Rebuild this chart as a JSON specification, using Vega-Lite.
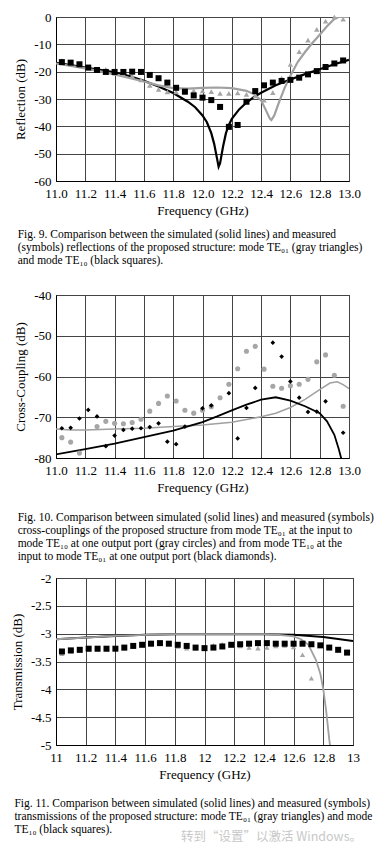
{
"$schema": "https://vega.github.io/schema/vega-lite/v6.json",
"padding": {"top": 10, "left": 10, "right": 5, "bottom": 0},
"spacing": 7,
"background": "white",
"config": {
 "view": {"stroke": "#000", "strokeWidth": 1},
 "axis": {"labelFont": "Liberation Serif", "titleFont": "Liberation Serif", "labelFontSize": 13, "titleFontSize": 13, "titleFontWeight": "normal", "labelColor": "#000", "titleColor": "#000", "gridColor": "#444", "gridWidth": 1, "gridOpacity": 1, "domainColor": "#000", "ticks": false, "labelOverlap": false, "labelFlush": false, "labelBound": false, "labelExpr": "replace(datum.label, '\u2212', '-')"},
 "axisX": {"labelPadding": 6, "titlePadding": 4},
 "axisY": {"labelPadding": 5, "titlePadding": 6},
 "title": {"font": "Liberation Serif", "fontSize": 11.5, "fontWeight": "normal", "color": "#000", "anchor": "start", "orient": "bottom", "frame": "bounds", "lineHeight": 13.1, "dx": 3}
},
"title": {"text": "转到“设置”以激活 Windows。", "font": "Noto Sans CJK SC", "fontSize": 12.5, "color": "#c8c8c8", "anchor": "start", "orient": "bottom", "offset": -5, "frame": "group", "dx": 125},
"vconcat": [
{
 "width": 293, "height": 164,
 "title": {"text": ["Fig. 9.   Comparison between the simulated (solid lines) and measured", "(symbols) reflections of the proposed structure: mode TE₀₁ (gray triangles)", "and mode TE₁₀ (black squares).", ""], "offset": 12},
 "data": {"values": [
  {"s":"sb","f":11.0,"v":-16.8},{"s":"sb","f":11.1,"v":-17.6},{"s":"sb","f":11.2,"v":-18.5},{"s":"sb","f":11.3,"v":-19.3},{"s":"sb","f":11.4,"v":-20.2},{"s":"sb","f":11.5,"v":-21.6},{"s":"sb","f":11.6,"v":-23.3},{"s":"sb","f":11.7,"v":-25.4},{"s":"sb","f":11.8,"v":-27.8},{"s":"sb","f":11.9,"v":-31.0},{"s":"sb","f":11.95,"v":-33.0},{"s":"sb","f":12.0,"v":-36.0},{"s":"sb","f":12.03,"v":-38.5},{"s":"sb","f":12.06,"v":-42.5},{"s":"sb","f":12.08,"v":-46.5},{"s":"sb","f":12.1,"v":-52.0},{"s":"sb","f":12.11,"v":-54.8},{"s":"sb","f":12.12,"v":-53.5},{"s":"sb","f":12.14,"v":-47.5},{"s":"sb","f":12.16,"v":-42.5},{"s":"sb","f":12.18,"v":-39.5},{"s":"sb","f":12.2,"v":-37.3},{"s":"sb","f":12.25,"v":-33.8},{"s":"sb","f":12.3,"v":-31.3},{"s":"sb","f":12.35,"v":-29.3},{"s":"sb","f":12.4,"v":-27.7},{"s":"sb","f":12.5,"v":-25.0},{"s":"sb","f":12.6,"v":-22.9},{"s":"sb","f":12.7,"v":-20.9},{"s":"sb","f":12.8,"v":-19.1},{"s":"sb","f":12.9,"v":-17.3},{"s":"sb","f":13.0,"v":-15.7},
  {"s":"sg","f":11.0,"v":-17.0},{"s":"sg","f":11.2,"v":-18.8},{"s":"sg","f":11.4,"v":-21.0},{"s":"sg","f":11.6,"v":-23.6},{"s":"sg","f":11.7,"v":-25.0},{"s":"sg","f":11.8,"v":-26.0},{"s":"sg","f":11.9,"v":-26.2},{"s":"sg","f":12.0,"v":-25.9},{"s":"sg","f":12.1,"v":-25.8},{"s":"sg","f":12.2,"v":-26.0},{"s":"sg","f":12.3,"v":-27.0},{"s":"sg","f":12.35,"v":-28.2},{"s":"sg","f":12.4,"v":-30.5},{"s":"sg","f":12.43,"v":-33.8},{"s":"sg","f":12.46,"v":-37.2},{"s":"sg","f":12.47,"v":-37.7},{"s":"sg","f":12.49,"v":-36.0},{"s":"sg","f":12.52,"v":-31.5},{"s":"sg","f":12.56,"v":-26.0},{"s":"sg","f":12.6,"v":-21.5},{"s":"sg","f":12.65,"v":-16.5},{"s":"sg","f":12.7,"v":-12.8},{"s":"sg","f":12.75,"v":-9.5},{"s":"sg","f":12.8,"v":-6.5},{"s":"sg","f":12.85,"v":-3.4},{"s":"sg","f":12.9,"v":-0.7},{"s":"sg","f":12.93,"v":0},{"s":"sg","f":13.0,"v":0},
  {"s":"mg","f":11.04,"v":-16.0},{"s":"mg","f":11.10,"v":-16.6},{"s":"mg","f":11.16,"v":-17.5},{"s":"mg","f":11.22,"v":-18.6},{"s":"mg","f":11.28,"v":-19.6},{"s":"mg","f":11.34,"v":-19.2},{"s":"mg","f":11.40,"v":-20.5},{"s":"mg","f":11.46,"v":-21.0},{"s":"mg","f":11.52,"v":-21.5},{"s":"mg","f":11.58,"v":-23.0},{"s":"mg","f":11.64,"v":-25.0},{"s":"mg","f":11.70,"v":-26.5},{"s":"mg","f":11.76,"v":-27.4},{"s":"mg","f":11.82,"v":-27.4},{"s":"mg","f":11.88,"v":-27.6},{"s":"mg","f":11.94,"v":-26.9},{"s":"mg","f":12.00,"v":-27.0},{"s":"mg","f":12.06,"v":-27.3},{"s":"mg","f":12.12,"v":-27.9},{"s":"mg","f":12.18,"v":-27.9},{"s":"mg","f":12.24,"v":-27.8},{"s":"mg","f":12.30,"v":-28.3},{"s":"mg","f":12.36,"v":-28.9},{"s":"mg","f":12.42,"v":-30.4},{"s":"mg","f":12.48,"v":-27.7},{"s":"mg","f":12.54,"v":-22.4},{"s":"mg","f":12.60,"v":-17.3},{"s":"mg","f":12.66,"v":-12.7},{"s":"mg","f":12.72,"v":-8.5},{"s":"mg","f":12.78,"v":-4.5},{"s":"mg","f":12.84,"v":-1.5},{"s":"mg","f":12.90,"v":0},{"s":"mg","f":12.96,"v":-0.8},
  {"s":"mb","f":11.04,"v":-16.5},{"s":"mb","f":11.10,"v":-16.7},{"s":"mb","f":11.16,"v":-17.3},{"s":"mb","f":11.22,"v":-18.5},{"s":"mb","f":11.28,"v":-19.4},{"s":"mb","f":11.34,"v":-20.1},{"s":"mb","f":11.40,"v":-20.1},{"s":"mb","f":11.46,"v":-20.1},{"s":"mb","f":11.52,"v":-20.0},{"s":"mb","f":11.58,"v":-20.1},{"s":"mb","f":11.64,"v":-21.2},{"s":"mb","f":11.70,"v":-22.4},{"s":"mb","f":11.76,"v":-24.0},{"s":"mb","f":11.82,"v":-25.9},{"s":"mb","f":11.88,"v":-27.3},{"s":"mb","f":11.94,"v":-28.7},{"s":"mb","f":12.00,"v":-29.5},{"s":"mb","f":12.06,"v":-30.4},{"s":"mb","f":12.12,"v":-32.9},{"s":"mb","f":12.18,"v":-40.2},{"s":"mb","f":12.24,"v":-39.5},{"s":"mb","f":12.30,"v":-31.0},{"s":"mb","f":12.36,"v":-27.1},{"s":"mb","f":12.42,"v":-25.0},{"s":"mb","f":12.48,"v":-24.0},{"s":"mb","f":12.54,"v":-23.4},{"s":"mb","f":12.60,"v":-23.0},{"s":"mb","f":12.66,"v":-22.2},{"s":"mb","f":12.72,"v":-21.0},{"s":"mb","f":12.78,"v":-19.8},{"s":"mb","f":12.84,"v":-18.3},{"s":"mb","f":12.90,"v":-17.0},{"s":"mb","f":12.96,"v":-15.9}
 ]},
 "encoding": {
  "x": {"field": "f", "type": "quantitative", "title": "Frequency (GHz)", "scale": {"domain": [11, 13], "nice": false}, "axis": {"values": [11, 11.2, 11.4, 11.6, 11.8, 12, 12.2, 12.4, 12.6, 12.8, 13], "format": ".1f"}},
  "y": {"field": "v", "type": "quantitative", "title": "Reflection (dB)", "scale": {"domain": [-60, 0], "nice": false}, "axis": {"values": [-60, -50, -40, -30, -20, -10, 0], "format": "d"}}
 },
 "layer": [
  {"transform": [{"filter": "datum.s == 'sb'"}], "mark": {"type": "line", "color": "#000", "strokeWidth": 2.2, "clip": true}, "encoding": {}},
  {"transform": [{"filter": "datum.s == 'sg'"}], "mark": {"type": "line", "color": "#a0a0a0", "strokeWidth": 2.2, "clip": true}, "encoding": {}},
  {"transform": [{"filter": "datum.s == 'mg'"}], "mark": {"type": "point", "shape": "triangle-up", "filled": true, "color": "#a6a6a6", "size": 30, "opacity": 1}},
  {"transform": [{"filter": "datum.s == 'mb'"}], "mark": {"type": "point", "shape": "square", "filled": true, "color": "#000", "size": 36, "opacity": 1}}
 ]
},
{
 "width": 293, "height": 163,
 "title": {"text": ["Fig. 10.  Comparison between simulated (solid lines) and measured (symbols)", "cross-couplings of the proposed structure from mode TE₀₁ at the input to", "mode TE₁₀ at one output port (gray circles) and from mode TE₁₀ at the", "input to mode TE₀₁ at one output port (black diamonds)."], "offset": 18},
 "data": {"values": [
  {"s":"sb","f":11.0,"v":-79.1},{"s":"sb","f":11.2,"v":-77.8},{"s":"sb","f":11.4,"v":-76.5},{"s":"sb","f":11.6,"v":-74.9},{"s":"sb","f":11.8,"v":-73.3},{"s":"sb","f":12.0,"v":-71.2},{"s":"sb","f":12.1,"v":-69.8},{"s":"sb","f":12.2,"v":-68.3},{"s":"sb","f":12.3,"v":-66.9},{"s":"sb","f":12.4,"v":-65.7},{"s":"sb","f":12.5,"v":-65.1},{"s":"sb","f":12.6,"v":-65.9},{"s":"sb","f":12.7,"v":-67.3},{"s":"sb","f":12.8,"v":-69.0},{"s":"sb","f":12.85,"v":-71.0},{"s":"sb","f":12.9,"v":-74.3},{"s":"sb","f":12.93,"v":-77.8},{"s":"sb","f":12.95,"v":-80.5},
  {"s":"sg","f":11.0,"v":-72.9},{"s":"sg","f":11.1,"v":-73.1},{"s":"sg","f":11.2,"v":-73.1},{"s":"sg","f":11.4,"v":-72.9},{"s":"sg","f":11.6,"v":-72.7},{"s":"sg","f":11.8,"v":-72.3},{"s":"sg","f":12.0,"v":-71.9},{"s":"sg","f":12.2,"v":-71.2},{"s":"sg","f":12.4,"v":-69.9},{"s":"sg","f":12.5,"v":-69.0},{"s":"sg","f":12.6,"v":-67.6},{"s":"sg","f":12.7,"v":-65.6},{"s":"sg","f":12.8,"v":-63.2},{"s":"sg","f":12.87,"v":-61.6},{"s":"sg","f":12.92,"v":-61.3},{"s":"sg","f":12.96,"v":-62.0},{"s":"sg","f":13.0,"v":-63.0},
  {"s":"mg","f":11.04,"v":-75.0},{"s":"mg","f":11.10,"v":-76.1},{"s":"mg","f":11.16,"v":-78.8},{"s":"mg","f":11.28,"v":-72.3},{"s":"mg","f":11.34,"v":-71.0},{"s":"mg","f":11.40,"v":-71.5},{"s":"mg","f":11.46,"v":-71.6},{"s":"mg","f":11.52,"v":-71.3},{"s":"mg","f":11.58,"v":-70.5},{"s":"mg","f":11.64,"v":-68.5},{"s":"mg","f":11.70,"v":-66.6},{"s":"mg","f":11.76,"v":-64.8},{"s":"mg","f":11.82,"v":-66.0},{"s":"mg","f":11.88,"v":-68.3},{"s":"mg","f":11.94,"v":-69.0},{"s":"mg","f":12.00,"v":-68.3},{"s":"mg","f":12.06,"v":-67.4},{"s":"mg","f":12.12,"v":-65.2},{"s":"mg","f":12.18,"v":-61.9},{"s":"mg","f":12.24,"v":-58.1},{"s":"mg","f":12.30,"v":-53.8},{"s":"mg","f":12.36,"v":-52.6},{"s":"mg","f":12.42,"v":-58.2},{"s":"mg","f":12.48,"v":-62.4},{"s":"mg","f":12.54,"v":-62.9},{"s":"mg","f":12.60,"v":-62.3},{"s":"mg","f":12.66,"v":-61.9},{"s":"mg","f":12.72,"v":-60.7},{"s":"mg","f":12.78,"v":-56.4},{"s":"mg","f":12.84,"v":-54.7},{"s":"mg","f":12.90,"v":-59.7},{"s":"mg","f":12.96,"v":-67.3},
  {"s":"mb","f":11.04,"v":-72.7},{"s":"mb","f":11.10,"v":-72.6},{"s":"mb","f":11.16,"v":-70.3},{"s":"mb","f":11.22,"v":-68.2},{"s":"mb","f":11.28,"v":-69.8},{"s":"mb","f":11.34,"v":-77.1},{"s":"mb","f":11.40,"v":-74.5},{"s":"mb","f":11.46,"v":-73.1},{"s":"mb","f":11.52,"v":-72.8},{"s":"mb","f":11.58,"v":-72.7},{"s":"mb","f":11.64,"v":-72.4},{"s":"mb","f":11.70,"v":-71.5},{"s":"mb","f":11.76,"v":-76.0},{"s":"mb","f":11.82,"v":-76.6},{"s":"mb","f":11.88,"v":-72.3},{"s":"mb","f":12.00,"v":-67.8},{"s":"mb","f":12.06,"v":-67.1},{"s":"mb","f":12.18,"v":-64.1},{"s":"mb","f":12.24,"v":-75.2},{"s":"mb","f":12.30,"v":-67.7},{"s":"mb","f":12.36,"v":-62.8},{"s":"mb","f":12.48,"v":-51.7},{"s":"mb","f":12.54,"v":-55.1},{"s":"mb","f":12.60,"v":-61.2},{"s":"mb","f":12.66,"v":-65.2},{"s":"mb","f":12.72,"v":-68.7},{"s":"mb","f":12.78,"v":-68.6},{"s":"mb","f":12.84,"v":-66.1},{"s":"mb","f":12.96,"v":-73.8}
 ]},
 "encoding": {
  "x": {"field": "f", "type": "quantitative", "title": "Frequency (GHz)", "scale": {"domain": [11, 13], "nice": false}, "axis": {"values": [11, 11.2, 11.4, 11.6, 11.8, 12, 12.2, 12.4, 12.6, 12.8, 13], "format": ".1f"}},
  "y": {"field": "v", "type": "quantitative", "title": "Cross-Coupling (dB)", "scale": {"domain": [-80, -40], "nice": false}, "axis": {"values": [-80, -70, -60, -50, -40], "format": "d"}}
 },
 "layer": [
  {"transform": [{"filter": "datum.s == 'sg'"}], "mark": {"type": "line", "color": "#a0a0a0", "strokeWidth": 1.5, "clip": true}, "encoding": {}},
  {"transform": [{"filter": "datum.s == 'sb'"}], "mark": {"type": "line", "color": "#000", "strokeWidth": 1.8, "clip": true}, "encoding": {}},
  {"transform": [{"filter": "datum.s == 'mg'"}], "mark": {"type": "point", "shape": "circle", "filled": true, "color": "#a6a6a6", "size": 26, "opacity": 1}},
  {"transform": [{"filter": "datum.s == 'mb'"}], "mark": {"type": "point", "shape": "diamond", "filled": true, "color": "#000", "size": 22, "opacity": 1}}
 ]
},
{
 "width": 297, "height": 167,
 "title": {"text": ["Fig. 11.  Comparison between simulated (solid lines) and measured (symbols)", "transmissions of the proposed structure: mode TE₀₁ (gray triangles) and mode", "TE₁₀ (black squares)."], "offset": 17},
 "data": {"values": [
  {"s":"sb","f":11.0,"v":-3.10},{"s":"sb","f":11.2,"v":-3.07},{"s":"sb","f":11.4,"v":-3.04},{"s":"sb","f":11.6,"v":-3.02},{"s":"sb","f":11.8,"v":-3.01},{"s":"sb","f":12.0,"v":-3.01},{"s":"sb","f":12.2,"v":-3.01},{"s":"sb","f":12.4,"v":-3.01},{"s":"sb","f":12.6,"v":-3.02},{"s":"sb","f":12.8,"v":-3.06},{"s":"sb","f":13.0,"v":-3.13},
  {"s":"sg","f":11.0,"v":-3.10},{"s":"sg","f":11.2,"v":-3.07},{"s":"sg","f":11.4,"v":-3.04},{"s":"sg","f":11.6,"v":-3.02},{"s":"sg","f":11.8,"v":-3.01},{"s":"sg","f":12.0,"v":-3.01},{"s":"sg","f":12.2,"v":-3.01},{"s":"sg","f":12.4,"v":-3.01},{"s":"sg","f":12.5,"v":-3.02},{"s":"sg","f":12.6,"v":-3.05},{"s":"sg","f":12.65,"v":-3.10},{"s":"sg","f":12.7,"v":-3.20},{"s":"sg","f":12.75,"v":-3.47},{"s":"sg","f":12.78,"v":-3.72},{"s":"sg","f":12.8,"v":-4.00},{"s":"sg","f":12.82,"v":-4.40},{"s":"sg","f":12.84,"v":-4.90},{"s":"sg","f":12.85,"v":-5.10},
  {"s":"mg","f":11.04,"v":-3.36},{"s":"mg","f":11.10,"v":-3.32},{"s":"mg","f":11.16,"v":-3.30},{"s":"mg","f":11.22,"v":-3.28},{"s":"mg","f":11.28,"v":-3.28},{"s":"mg","f":11.34,"v":-3.28},{"s":"mg","f":11.40,"v":-3.27},{"s":"mg","f":11.46,"v":-3.26},{"s":"mg","f":11.52,"v":-3.22},{"s":"mg","f":11.58,"v":-3.18},{"s":"mg","f":11.64,"v":-3.16},{"s":"mg","f":11.70,"v":-3.16},{"s":"mg","f":11.76,"v":-3.18},{"s":"mg","f":11.82,"v":-3.23},{"s":"mg","f":11.88,"v":-3.26},{"s":"mg","f":11.94,"v":-3.26},{"s":"mg","f":12.00,"v":-3.25},{"s":"mg","f":12.06,"v":-3.21},{"s":"mg","f":12.12,"v":-3.19},{"s":"mg","f":12.18,"v":-3.20},{"s":"mg","f":12.24,"v":-3.22},{"s":"mg","f":12.30,"v":-3.25},{"s":"mg","f":12.36,"v":-3.26},{"s":"mg","f":12.42,"v":-3.25},{"s":"mg","f":12.48,"v":-3.22},{"s":"mg","f":12.54,"v":-3.21},{"s":"mg","f":12.60,"v":-3.24},{"s":"mg","f":12.66,"v":-3.38},{"s":"mg","f":12.72,"v":-3.80},
  {"s":"mb","f":11.04,"v":-3.32},{"s":"mb","f":11.10,"v":-3.30},{"s":"mb","f":11.16,"v":-3.29},{"s":"mb","f":11.22,"v":-3.27},{"s":"mb","f":11.28,"v":-3.27},{"s":"mb","f":11.34,"v":-3.27},{"s":"mb","f":11.40,"v":-3.27},{"s":"mb","f":11.46,"v":-3.25},{"s":"mb","f":11.52,"v":-3.22},{"s":"mb","f":11.58,"v":-3.20},{"s":"mb","f":11.64,"v":-3.18},{"s":"mb","f":11.70,"v":-3.17},{"s":"mb","f":11.76,"v":-3.18},{"s":"mb","f":11.82,"v":-3.20},{"s":"mb","f":11.88,"v":-3.22},{"s":"mb","f":11.94,"v":-3.25},{"s":"mb","f":12.00,"v":-3.26},{"s":"mb","f":12.06,"v":-3.25},{"s":"mb","f":12.12,"v":-3.23},{"s":"mb","f":12.18,"v":-3.20},{"s":"mb","f":12.24,"v":-3.19},{"s":"mb","f":12.30,"v":-3.18},{"s":"mb","f":12.36,"v":-3.17},{"s":"mb","f":12.42,"v":-3.17},{"s":"mb","f":12.48,"v":-3.18},{"s":"mb","f":12.54,"v":-3.18},{"s":"mb","f":12.60,"v":-3.18},{"s":"mb","f":12.66,"v":-3.18},{"s":"mb","f":12.72,"v":-3.19},{"s":"mb","f":12.78,"v":-3.21},{"s":"mb","f":12.84,"v":-3.25},{"s":"mb","f":12.90,"v":-3.29},{"s":"mb","f":12.96,"v":-3.34}
 ]},
 "encoding": {
  "x": {"field": "f", "type": "quantitative", "title": "Frequency (GHz)", "scale": {"domain": [11, 13], "nice": false}, "axis": {"values": [11, 11.2, 11.4, 11.6, 11.8, 12, 12.2, 12.4, 12.6, 12.8, 13], "format": "~g"}},
  "y": {"field": "v", "type": "quantitative", "title": "Transmission (dB)", "scale": {"domain": [-5, -2], "nice": false}, "axis": {"values": [-5, -4.5, -4, -3.5, -3, -2.5, -2], "format": "~g"}}
 },
 "layer": [
  {"transform": [{"filter": "datum.s == 'sb'"}], "mark": {"type": "line", "color": "#000", "strokeWidth": 2, "clip": true}, "encoding": {}},
  {"transform": [{"filter": "datum.s == 'sg'"}], "mark": {"type": "line", "color": "#a0a0a0", "strokeWidth": 1.8, "clip": true}, "encoding": {}},
  {"transform": [{"filter": "datum.s == 'mg'"}], "mark": {"type": "point", "shape": "triangle-up", "filled": true, "color": "#a6a6a6", "size": 28, "opacity": 1}},
  {"transform": [{"filter": "datum.s == 'mb'"}], "mark": {"type": "point", "shape": "square", "filled": true, "color": "#000", "size": 36, "opacity": 1}}
 ]
}
]
}
